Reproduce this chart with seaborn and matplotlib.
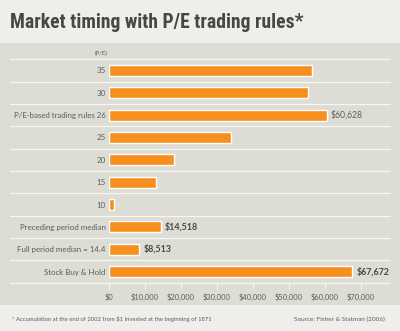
import matplotlib
matplotlib.use("Agg")
import matplotlib.pyplot as plt
import seaborn as sns
import pandas as pd
from matplotlib.patches import Rectangle
from matplotlib import font_manager as fm

categories = ["35", "30", "P/E-based trading rules 26", "25", "20", "15", "10",
              "Preceding period median", "Full period median = 14.4", "Stock Buy & Hold"]
values = [56600, 55400, 60628, 34000, 18000, 13200, 1600, 14518, 8513, 67672]
value_labels = ["", "", "$60,628", "", "", "", "", "$14,518", "$8,513", "$67,672"]
label_bold = [False, False, False, False, False, False, False, True, True, True]
xticks = [0, 10000, 20000, 30000, 40000, 50000, 60000, 70000]
xtick_labels = ["$0", "$10,000", "$20,000", "$30,000", "$40,000", "$50,000", "$60,000", "$70,000"]


def pick_condensed_bold():
    prefs = ["RobotoCondensed", "LiberationSansNarrow", "OpenSansCondensed", "OpenSans_Condensed",
             "DejaVuSansCondensed"]
    files = [f.fname for f in fm.fontManager.ttflist]
    for p in prefs:
        for fn in files:
            base = fn.split("/")[-1].replace("-", "")
            if base.startswith(p):
                rest = base[len(p):].lower()
                if rest.startswith("bold") and "italic" not in rest and "oblique" not in rest:
                    return fm.FontProperties(fname=fn)
    return fm.FontProperties(family="DejaVu Sans", weight="bold")


FP = fm.FontProperties(family=["Lato", "DejaVu Sans"], weight="normal")
FPB = fm.FontProperties(family=["Lato", "DejaVu Sans"], weight="bold")
FPT = pick_condensed_bold()

sns.set_theme(style="white")
plt.rcParams["font.family"] = ["Lato", "DejaVu Sans"]

BG = "#efeeea"
PANEL = "#dddcd5"
ORANGE = "#f78f1e"
TXT = "#5c5c5c"
DARK = "#474747"
LINE = "#f6f6f3"

W, H = 400, 331
fig = plt.figure(figsize=(4.0, 3.31), dpi=100, facecolor=BG)
renderer = fig.canvas.get_renderer()


def fit_size(text, width_px, fp, start=8.0):
    t = fig.text(0, 0, text, fontproperties=fp, fontsize=start)
    w = t.get_window_extent(renderer).width
    t.remove()
    return start * width_px / w


fig.add_artist(Rectangle((0, (H - 305) / H), 1, (305 - 43) / H, transform=fig.transFigure,
                         facecolor=PANEL, edgecolor="none", zorder=0))

left, right = 108.7, 390
top, bottom = 59.3, 282.7
ax = fig.add_axes([left / W, (H - bottom) / H, (right - left) / W, (bottom - top) / H])
ax.set_facecolor("none")

df = pd.DataFrame({"cat": categories, "val": values})
sns.barplot(data=df, y="cat", x="val", color=ORANGE, saturation=1, width=0.5, ax=ax, zorder=3)
ax.set_xlim(0, (right - left) / 36 * 10000)
ax.set_ylim(len(categories) - 0.5, -0.5)
ax.set_xlabel("")
ax.set_ylabel("")
for s in ax.spines.values():
    s.set_visible(False)

x0 = -(left - 10) / (right - left)
for i in range(len(categories) + 1):
    ax.plot([x0, 1], [i - 0.5, i - 0.5], transform=ax.get_yaxis_transform(),
            color=LINE, lw=0.9, clip_on=False, zorder=1)

cat_size = fit_size("P/E-based trading rules 26", 93, FP)
tick_size = fit_size("$70,000", 28, FP)
val_size = fit_size("$60,628", 32, FP)
valb_size = fit_size("$67,672", 33, FPB)
title_size = fit_size("Market timing with P/E trading rules*", 293, FPT)
note_size = fit_size("* Accumulation at the end of 2002 from $1 Invested at the beginning of 1871", 200, FP)
src_size = fit_size("Source: Fisher & Statman (2006)", 92, FP)
pe_size = fit_size("(P/E)", 13, FP)

ax.set_xticks(xticks)
ax.set_xticklabels(xtick_labels, fontproperties=FP, fontsize=tick_size)
ax.set_yticks(range(len(categories)))
ax.set_yticklabels(categories, fontproperties=FP, fontsize=cat_size)
ax.tick_params(axis="x", bottom=True, length=4, width=0.8, color=LINE,
               labelcolor=TXT, pad=4)
ax.tick_params(axis="y", left=False, length=0, labelcolor=TXT, pad=2.2)

for i, (v, lab, b) in enumerate(zip(values, value_labels, label_bold)):
    if lab:
        ax.text(v + 1100, i, lab, va="center", ha="left",
                fontproperties=FPB if b else FP, fontsize=valb_size if b else val_size,
                color=DARK if b else TXT)

fig.text(108 / W, (H - 53) / H, "(P/E)", ha="right", va="center", fontproperties=FP,
         fontsize=pe_size, color=TXT)
fig.text(10 / W, (H - 22) / H, "Market timing with P/E trading rules*", ha="left", va="center",
         fontproperties=FPT, fontsize=title_size, color=DARK)
fig.text(12 / W, (H - 319) / H,
         "* Accumulation at the end of 2002 from $1 Invested at the beginning of 1871",
         ha="left", va="center", fontproperties=FP, fontsize=note_size, color=TXT)
fig.text(385 / W, (H - 319) / H, "Source: Fisher & Statman (2006)", ha="right", va="center",
         fontproperties=FP, fontsize=src_size, color=TXT)

fig.savefig("out.png", dpi=100, facecolor=BG)
